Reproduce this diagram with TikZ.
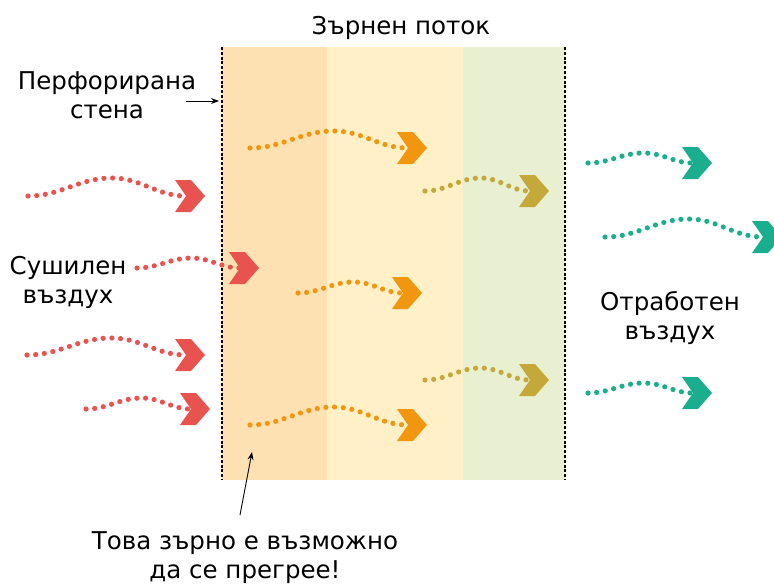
\documentclass[tikz,border=0pt]{standalone}
\usepackage{fontspec}
\setmainfont{DejaVu Sans}
\usetikzlibrary{arrows.meta}
\definecolor{redair}{HTML}{E8534F}
\definecolor{orangeair}{HTML}{F0960F}
\definecolor{oliveair}{HTML}{C4A93A}
\definecolor{tealair}{HTML}{1AAE8E}
\definecolor{bandA}{HTML}{FDE1B2}
\definecolor{bandB}{HTML}{FFF0C8}
\definecolor{bandC}{HTML}{E8F0D1}
\tikzset{
  dotflow/.style={line width=5.2pt, line cap=round, dash pattern=on 0pt off 8.7pt},
  wall/.style={line width=2.4pt, dash pattern=on 3pt off 1.8pt},
  lbl/.style={font=\fontsize{24.5}{29.5}\selectfont, align=center, inner sep=0pt},
  pointer/.style={line width=0.9pt, -{Stealth[length=8pt,width=6pt]}}
}
\newcommand{\airflow}[6]{%
  \coordinate (#1-s) at (#3,#4);
  \coordinate (#1-t) at (#5,#4);
  \coordinate (#1-n) at ({#5-19},#4);
  \coordinate (#1-p) at ({#3+0.53*(#5-19-#3)},{#4-#6});
  \draw[dotflow,#2] (#1-s) to[out=0,in=180] (#1-p) to[out=0,in=180] (#1-n);
  \fill[#2] (#1-t) -- ++(-14,-16) -- ++(-16,0) -- ++(11,16) -- ++(-11,16) -- ++(16,0) -- cycle;
}
\begin{document}
\begin{tikzpicture}[x=1pt,y=-1pt]
\useasboundingbox (0,0) rectangle (774,584);
\clip (0,0) rectangle (774,584);
% grain stream bands
\fill[bandA] (222,47) rectangle (327,480);
\fill[bandB] (327,47) rectangle (463,480);
\fill[bandC] (463,47) rectangle (565,480);
\draw[wall] (222,47) -- (222,480);
\draw[wall] (565,47) -- (565,480);
% labels
\node[lbl, anchor=north] (title) at (401,16) {Зърнен поток};
\node[lbl, anchor=north] (perf) at (107,71) {Перфорирана\\стена};
\node[lbl, anchor=north] (dry) at (68,256) {Сушилен\\въздух};
\node[lbl, anchor=north] (spent) at (670,291) {Отработен\\въздух};
\node[lbl, anchor=north] (warn) at (245,531) {Това зърно е възможно\\да се прегрее!};
% pointers
\coordinate (perf-a) at (186,101);
\coordinate (perf-b) at (219,101);
\draw[pointer] (perf-a) -- (perf-b);
\coordinate (warn-a) at (240,515);
\coordinate (warn-b) at (252,452);
\draw[pointer] (warn-a) -- (warn-b);
% drying air
\airflow{r1}{redair}{28}{196}{205}{18}
\airflow{r2}{redair}{137}{268}{259}{10}
\airflow{r3}{redair}{27}{355}{205}{17}
\airflow{r4}{redair}{86}{409}{210}{11}
% inside grain
\airflow{o1}{orangeair}{250}{148}{427}{17}
\airflow{o2}{orangeair}{298}{293}{422}{11}
\airflow{o3}{orangeair}{250}{425}{427}{18}
\airflow{g1}{oliveair}{425}{191}{549}{13}
\airflow{g2}{oliveair}{425}{380}{549}{12}
% spent air
\airflow{t1}{tealair}{588}{163}{712}{10}
\airflow{t2}{tealair}{605}{237}{782}{18}
\airflow{t3}{tealair}{588}{393}{712}{10}
\end{tikzpicture}
\end{document}
